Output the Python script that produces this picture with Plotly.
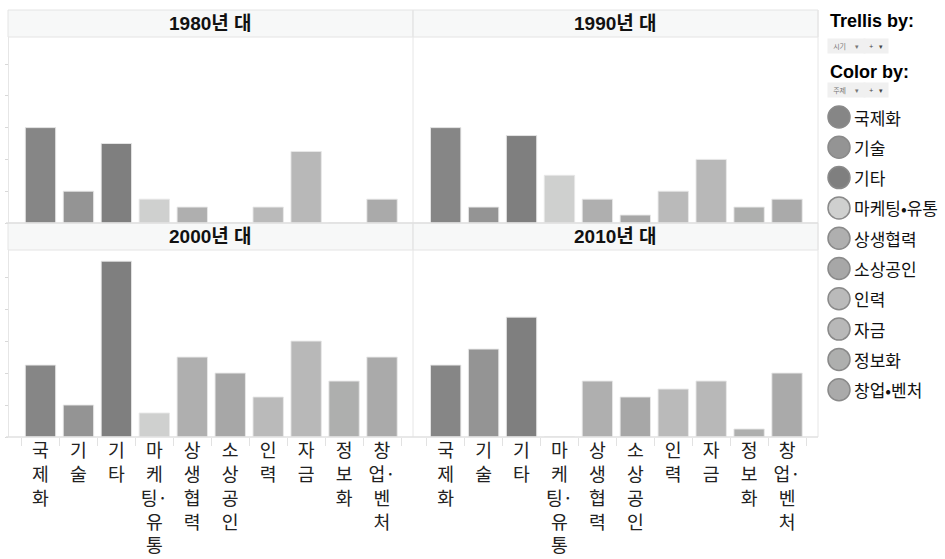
import plotly.graph_objects as go

W, H = 945, 559

categories = ["국제화", "기술", "기타", "마케팅·유통", "상생협력", "소상공인", "인력", "자금", "정보화", "창업·벤처"]
decades = ["1980년 대", "1990년 대", "2000년 대", "2010년 대"]
v1980 = [12, 4, 10, 3, 2, 0, 2, 9, 0, 3]
v1990 = [12, 2, 11, 6, 3, 1, 4, 8, 2, 3]
v2000 = [9, 4, 22, 3, 10, 8, 5, 12, 7, 10]
v2010 = [9, 11, 15, 0, 7, 5, 6, 7, 1, 8]
colors = ["#868686", "#949494", "#7f7f7f", "#cfd0cf", "#afafaf",
          "#a7a7a7", "#bababa", "#b8b8b8", "#aeafae", "#aaaaaa"]
y_ticks = [0, 4, 8, 12, 16, 20]


def fx(p):
    return p / W


def fy(p):
    return 1 - p / H


def vertical_label(name):
    parts = []
    for ch in name:
        if ch == "·" and parts:
            parts[-1] += ch
        else:
            parts.append(ch)
    return "<br>".join(parts)


tick_text = [vertical_label(c) for c in categories]
KFONT = "Noto Sans CJK KR, Noto Sans, sans-serif"

# panel geometry (pixels)
panels = [
    dict(vals=v1980, title=decades[0], x=(8, 413), xd=(21.5, 401), head=(10, 37), yd=(37, 223), bottom=False),
    dict(vals=v1990, title=decades[1], x=(413, 818), xd=(426.7, 806), head=(10, 37), yd=(37, 223), bottom=False),
    dict(vals=v2000, title=decades[2], x=(8, 413), xd=(21.5, 401), head=(223, 250), yd=(250, 437), bottom=True),
    dict(vals=v2010, title=decades[3], x=(413, 818), xd=(426.7, 806), head=(223, 250), yd=(250, 437), bottom=True),
]

fig = go.Figure()
shapes = []
annotations = []
layout = {}

for i, p in enumerate(panels):
    n = i + 1
    xa = "x" if n == 1 else f"x{n}"
    ya = "y" if n == 1 else f"y{n}"
    fig.add_trace(go.Bar(
        x=categories, y=p["vals"], xaxis=xa, yaxis=ya,
        marker=dict(color=colors, line=dict(color="rgba(232,232,232,0.9)", width=1)),
        showlegend=False, hoverinfo="x+y",
    ))
    xkey = "xaxis" if n == 1 else f"xaxis{n}"
    ykey = "yaxis" if n == 1 else f"yaxis{n}"
    xaxis = dict(
        domain=[fx(p["xd"][0]), fx(p["xd"][1])],
        anchor=ya, type="category", range=[-0.5, len(categories) - 0.5],
        showgrid=False, zeroline=False, showline=False, fixedrange=True,
        automargin=False,
    )
    if p["bottom"]:
        xaxis.update(ticks="outside", tickson="boundaries", ticklen=8, tickcolor="#e2e2e2",
                     tickmode="array", tickvals=categories, ticktext=tick_text,
                     ticklabelstandoff=1,
                     tickangle=0, tickfont=dict(family=KFONT, size=18.3, color="#222222"))
    else:
        xaxis.update(showticklabels=False, ticks="")
    layout[xkey] = xaxis

    yaxis = dict(
        domain=[fy(p["yd"][1]), fy(p["yd"][0])],
        range=[0, 23.4], showgrid=False, zeroline=False, fixedrange=True,
        showticklabels=False, automargin=False,
    )
    if p["x"][0] == 8:
        yaxis.update(anchor="free", position=fx(8), ticks="outside", ticklen=3,
                     tickcolor="#d8d8d8", tickmode="array", tickvals=y_ticks,
                     showline=True, linecolor="#e6e6e6", linewidth=1)
    else:
        yaxis.update(anchor=xa, ticks="", showline=False)
    layout[ykey] = yaxis

    # header band
    shapes.append(dict(type="rect", xref="paper", yref="paper",
                       x0=fx(p["x"][0]), x1=fx(p["x"][1]), y0=fy(p["head"][1]), y1=fy(p["head"][0]),
                       fillcolor="#f7f8f8", line=dict(color="#e4e4e4", width=1), layer="below"))
    annotations.append(dict(text=f"<b>{p['title']}</b>", xref="paper", yref="paper",
                            x=fx((p["x"][0] + p["x"][1]) / 2), y=fy((p["head"][0] + p["head"][1]) / 2),
                            xanchor="center", yanchor="middle", showarrow=False,
                            font=dict(family="Liberation Sans, Noto Sans CJK KR", size=19, color="#111111")))

# panel frame lines
for xv in (413, 818):
    shapes.append(dict(type="line", xref="paper", yref="paper", x0=fx(xv), x1=fx(xv),
                       y0=fy(437), y1=fy(10), line=dict(color="#e6e6e6", width=1)))
for yv in (223, 437):
    shapes.append(dict(type="line", xref="paper", yref="paper", x0=fx(6), x1=fx(818),
                       y0=fy(yv), y1=fy(yv), line=dict(color="#e0e0e0", width=1.5)))

# right-hand controls
annotations.append(dict(text="<b>Trellis by:</b>", xref="paper", yref="paper", x=fx(828), y=fy(21),
                        xanchor="left", yanchor="middle", showarrow=False,
                        font=dict(family="Liberation Sans", size=18, color="#000000")))
annotations.append(dict(text="<b>Color by:</b>", xref="paper", yref="paper", x=fx(828), y=fy(72),
                        xanchor="left", yanchor="middle", showarrow=False,
                        font=dict(family="Liberation Sans", size=18, color="#000000")))
for yc, word in ((46, "시기"), (89.5, "주제")):
    annotations.append(dict(text=f"  {word}      ▾  ", xref="paper", yref="paper", x=fx(827), y=fy(yc),
                            xanchor="left", yanchor="middle", showarrow=False, bgcolor="#f0f0f0",
                            borderpad=2, font=dict(family=KFONT, size=7, color="#777777")))
    annotations.append(dict(text="  +    ▾  ", xref="paper", yref="paper", x=fx(863), y=fy(yc),
                            xanchor="left", yanchor="middle", showarrow=False, bgcolor="#f0f0f0",
                            borderpad=2, font=dict(family=KFONT, size=7, color="#444444")))

# legend
for i, (cat, col) in enumerate(zip(categories, colors)):
    yc = 117 + 30.3 * i
    shapes.append(dict(type="circle", xref="paper", yref="paper",
                       x0=fx(828), x1=fx(850), y0=fy(yc + 11), y1=fy(yc - 11),
                       fillcolor=col, line=dict(color="#8a8a8a", width=1.5)))
    annotations.append(dict(text=cat.replace("·", "•"), xref="paper", yref="paper", x=fx(852), y=fy(yc),
                            xanchor="left", yanchor="middle", showarrow=False,
                            font=dict(family=KFONT, size=17, color="#111111")))

fig.update_layout(
    width=W, height=H, margin=dict(l=0, r=0, t=0, b=0, autoexpand=False),
    paper_bgcolor="white", plot_bgcolor="white",
    bargap=0.2, shapes=shapes, annotations=annotations,
    **layout,
)

fig.write_html("out.html", config={"displayModeBar": False},
               post_script="document.body.style.margin='0';")
